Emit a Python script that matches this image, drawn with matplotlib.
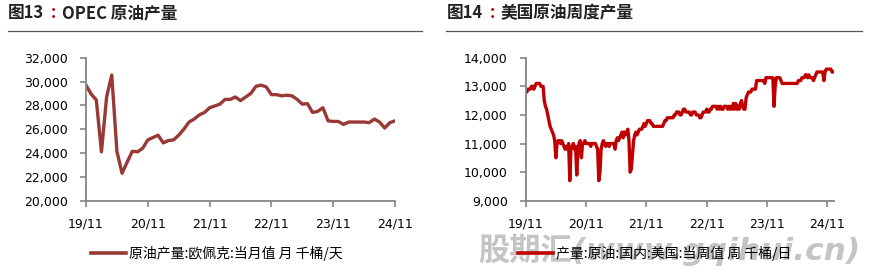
import matplotlib
matplotlib.use("Agg")
import matplotlib.pyplot as plt
from matplotlib.lines import Line2D
from matplotlib.ticker import FuncFormatter, MultipleLocator

plt.rcParams['font.family'] = ['DejaVu Sans', 'Noto Sans CJK SC']

# OPEC monthly crude output, kb/d, 19/11 .. 24/11
opec_output = [29700, 28950, 28450, 24100, 28700, 30550, 24150, 22300, 23250, 24150,
               24100, 24400, 25100, 25300, 25500, 24850, 25050, 25100, 25500, 26000,
               26600, 26850, 27200, 27400, 27800, 27950, 28100, 28500, 28500, 28700,
               28400, 28700, 29000, 29600, 29700, 29550, 28900, 28900, 28800, 28850,
               28800, 28500, 28100, 28150, 27400, 27500, 27800, 26700, 26650, 26650,
               26400, 26600, 26600, 26600, 26600, 26550, 26850, 26600, 26100, 26550,
               26700]

# US weekly crude output, kb/d
us_weekly = [12800, 12800, 12900, 12900, 12900, 13000, 13000, 12900, 13000, 13100,
             13100, 13100, 13100, 13000, 13000, 13000, 12500, 12300, 12200, 12000,
             11800, 11600, 11500, 11400, 11300, 11100, 10500, 11000, 11100, 11100,
             11000, 11100, 11000, 10900, 10800, 10900, 10800, 11000, 9700, 10800,
             10900, 11000, 10800, 10900, 9900, 10800, 11000, 11100, 10500, 11000,
             11000, 11100, 11000, 11000, 11000, 11000, 10900, 11000, 11000, 11000,
             11000, 10900, 10800, 9700, 10000, 10800, 11000, 11100, 11000, 10900,
             11000, 11000, 10900, 11000, 11000, 11000, 11000, 10800, 11100, 11200,
             11100, 11200, 11300, 11400, 11200, 11400, 11300, 11400, 11500, 11100,
             10000, 10100, 10600, 11100, 11300, 11400, 11300, 11400, 11500, 11500,
             11500, 11600, 11700, 11600, 11700, 11800, 11800, 11800, 11700, 11700,
             11600, 11600, 11600, 11600, 11600, 11600, 11600, 11600, 11600, 11700,
             11800, 11800, 11900, 11900, 11900, 11900, 11900, 11900, 12000, 12000,
             12100, 12100, 12100, 12000, 12000, 12100, 12200, 12200, 12100, 12100,
             12100, 12100, 12000, 12000, 12100, 12100, 12100, 12000, 12000, 12000,
             11900, 11900, 12000, 12100, 12100, 12100, 12200, 12100, 12100, 12200,
             12200, 12300, 12300, 12300, 12300, 12200, 12300, 12200, 12300, 12200,
             12200, 12300, 12300, 12300, 12200, 12300, 12200, 12300, 12200, 12400,
             12200, 12400, 12200, 12300, 12200, 12400, 12500, 12300, 12200, 12200,
             12600, 12700, 12800, 12800, 12800, 12900, 12900, 12900, 12900, 13200,
             13200, 13200, 13200, 13200, 13200, 13200, 13100, 13300, 13300, 13300,
             13300, 13300, 13300, 13300, 12300, 13000, 13300, 13300, 13300, 13300,
             13200, 13100, 13100, 13100, 13100, 13100, 13100, 13100, 13100, 13100,
             13100, 13100, 13100, 13100, 13100, 13200, 13200, 13200, 13300, 13300,
             13300, 13400, 13400, 13300, 13400, 13300, 13300, 13300, 13200, 13300,
             13400, 13500, 13500, 13500, 13500, 13500, 13500, 13200, 13500, 13600,
             13600, 13600, 13600, 13600, 13500, 13500]

year_labels = ['19/11', '20/11', '21/11', '22/11', '23/11', '24/11']

W, H = 879, 280
fig = plt.figure(figsize=(W / 100, H / 100), dpi=100)

def px_box(x0, x1, y_top, y_bot):
    return [x0 / W, 1 - y_bot / H, (x1 - x0) / W, (y_bot - y_top) / H]

thousands = FuncFormatter(lambda v, p: f'{int(v):,}')
axis_grey = '#868686'

def style_axes(ax):
    for s in ['top', 'right']:
        ax.spines[s].set_visible(False)
    for s in ['left', 'bottom']:
        ax.spines[s].set_color(axis_grey)
        ax.spines[s].set_linewidth(1.3)
    ax.tick_params(axis='y', direction='out', length=4, width=1.2, color=axis_grey,
                   labelsize=9, pad=9)
    ax.tick_params(axis='x', direction='out', length=4, width=1.2, color=axis_grey,
                   labelsize=9, pad=8)
    ax.yaxis.set_major_formatter(thousands)

def title(x, num, rest):
    kw = dict(fontsize=12, fontweight='bold', family=['Noto Sans CJK SC'],
              va='baseline')
    y = 1 - 18 / H
    fig.text(x / W, y, '图' + num, color='#222222', **kw)
    fig.text((x + 43) / W, y, ':', color='#C00000', **kw)
    fig.text((x + 54) / W, y, rest, color='#222222', **kw)

# ---- left: OPEC monthly
ax1 = fig.add_axes(px_box(86, 395, 57.7, 200.7))
months = list(range(len(opec_output)))
ax1.plot(months, opec_output, color='#983936', lw=2.4, solid_joinstyle='round')
ax1.set_xlim(0, 60)
ax1.set_ylim(20000, 32000)
ax1.yaxis.set_major_locator(MultipleLocator(2000))
ax1.set_xticks(range(0, 61, 12))
ax1.set_xticklabels(year_labels)
style_axes(ax1)

# ---- right: US weekly
ax2 = fig.add_axes(px_box(525.7, 834, 57.7, 200.7))
weeks = list(range(len(us_weekly)))
ax2.plot(weeks, us_weekly, color='#C00000', lw=2.4, solid_joinstyle='round')
ax2.set_xlim(0, 265.7)
ax2.set_ylim(9000, 14000)
ax2.yaxis.set_major_locator(MultipleLocator(1000))
ax2.set_xticks(range(0, 261, 52))
ax2.set_xticklabels(year_labels)
style_axes(ax2)

# titles and rules
title(8, '13', 'OPEC 原油产量')
title(447, '14', '美国原油周度产量')
fig.add_artist(Line2D([8 / W, 422 / W], [1 - 30.7 / H] * 2, color='#555555', lw=0.9))
fig.add_artist(Line2D([446 / W, 862 / W], [1 - 30.7 / H] * 2, color='#555555', lw=0.9))

# watermark
fig.text(478 / W, 1 - 250 / H, '股期汇(www.gqihui.cn)', fontsize=22.5, fontweight='bold',
         style='italic', color='#C4C4C4', va='center', ha='left',
         family=['DejaVu Sans', 'Noto Sans CJK SC'], zorder=0)

# legends
h1 = Line2D([], [], color='#983936', lw=2.6)
h2 = Line2D([], [], color='#C00000', lw=2.6)
leg_font = {'family': ['Noto Sans CJK SC'], 'size': 10}
fig.legend([h1], ['原油产量:欧佩克:当月值 月 千桶/天'], loc='center',
           bbox_to_anchor=(217 / W, 1 - 253 / H), frameon=False, prop=leg_font,
           handlelength=2.5, handletextpad=0.25)
fig.legend([h2], ['产量:原油:国内:美国:当周值 周 千桶/日'], loc='center',
           bbox_to_anchor=(655 / W, 1 - 253 / H), frameon=False, prop=leg_font,
           handlelength=2.5, handletextpad=0.25)

fig.savefig('out.png', dpi=100)
